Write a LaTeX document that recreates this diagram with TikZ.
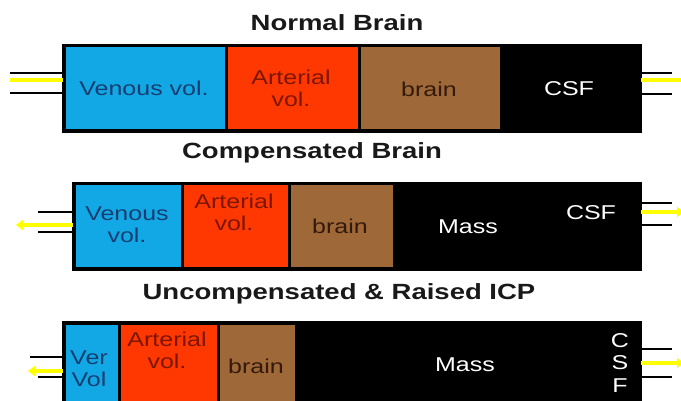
\documentclass[tikz,border=0pt]{standalone}
\usepackage{fontspec}
\setmainfont{Liberation Sans}[FakeStretch=1.25]
\usetikzlibrary{arrows.meta}
\definecolor{venfill}{RGB}{18,168,230}
\definecolor{artfill}{RGB}{255,55,0}
\definecolor{brfill}{RGB}{158,104,56}
\definecolor{ventext}{RGB}{22,62,112}
\definecolor{arttext}{RGB}{125,22,0}
\definecolor{brtext}{RGB}{52,26,10}
\definecolor{ttl}{RGB}{25,25,25}
\definecolor{yel}{RGB}{255,255,0}
\tikzset{
  sec/.style={draw=black, line width=2.5pt, inner sep=0pt, anchor=north west,
    align=center, font=\fontsize{20}{22}\selectfont},
  ven/.style={sec, fill=venfill, text=ventext},
  art/.style={sec, fill=artfill, text=arttext},
  brn/.style={sec, fill=brfill, text=brtext},
  blk/.style={sec, fill=black, text=white},
  lbl/.style={inner sep=0pt, align=center, font=\fontsize{20}{22}\selectfont},
  ttlnode/.style={inner sep=0pt, text=ttl, font=\fontsize{22}{24}\selectfont\bfseries},
  pipe/.style={draw=black, line width=2.7pt},
  flow/.style={draw=yel, line width=3.5pt},
  flowarr/.style={draw=yel, line width=3.5pt, -{Triangle[length=7pt,width=10pt]}}
}
\begin{document}
\begin{tikzpicture}[x=1pt,y=-1pt]
\useasboundingbox (0,0) rectangle (681,401);
\clip (0,0) rectangle (681,401);
% titles
\node[ttlnode] (t1) at (337,23) {Normal Brain};
\node[ttlnode] (t2) at (312,153) {Compensated Brain};
\node[ttlnode] (t3) at (339,294) {Uncompensated \& Raised ICP};

% row 1
\node[ven, minimum width=162pt, minimum height=84pt] (v1) at (63,45) {};
\node[art, minimum width=133pt, minimum height=84pt] (a1) at (225,45) {};
\node[brn, minimum width=142pt, minimum height=84pt] (b1) at (358,45) {};
\node[blk, minimum width=138pt, minimum height=84pt] (c1) at (500,45) {};
\node[lbl, text=ventext] (v1t) at (144,88) {Venous vol.};
\node[lbl, text=arttext] (a1t) at (291,88) {Arterial\\vol.};
\node[lbl, text=brtext] (b1t) at (429,89) {brain};
\node[lbl, text=white] (c1t) at (569,89) {CSF};
\draw[line width=2.5pt] (v1.north west) rectangle (c1.south east);

\coordinate (l1a) at (10,73);
\coordinate (l1y) at (10,80);
\coordinate (l1b) at (10,93);
\draw[pipe] (l1a) -- (l1a -| v1.west);
\draw[flow] (l1y) -- (l1y -| v1.west);
\draw[pipe] (l1b) -- (l1b -| v1.west);
\coordinate (r1a) at (672,73);
\coordinate (r1y) at (684,80);
\coordinate (r1b) at (672,94);
\draw[pipe] (c1.east |- r1a) -- (r1a);
\draw[flow] (c1.east |- r1y) -- (r1y);
\draw[pipe] (c1.east |- r1b) -- (r1b);

% row 2
\node[ven, minimum width=108pt, minimum height=84pt] (v2) at (73,183) {};
\node[art, minimum width=107pt, minimum height=84pt] (a2) at (181,183) {};
\node[brn, minimum width=105pt, minimum height=84pt] (b2) at (288,183) {};
\node[blk, minimum width=245pt, minimum height=84pt] (m2) at (393,183) {};
\node[lbl, text=ventext] (v2t) at (127,225) {Venous\\vol.};
\node[lbl, text=arttext] (a2t) at (234,212) {Arterial\\vol.};
\node[lbl, text=brtext] (b2t) at (340,226) {brain};
\node[lbl, text=white] (m2t) at (468,227) {Mass};
\node[lbl, text=white] (c2t) at (591,213) {CSF};
\draw[line width=2.5pt] (v2.north west) rectangle (m2.south east);

\coordinate (l2a) at (38,212);
\coordinate (l2y) at (16,225);
\coordinate (l2b) at (38,232);
\draw[pipe] (l2a) -- (l2a -| v2.west);
\draw[flowarr] (l2y -| v2.west) -- (l2y);
\draw[pipe] (l2b) -- (l2b -| v2.west);
\coordinate (r2a) at (672,203);
\coordinate (r2y) at (684,212);
\coordinate (r2b) at (672,225);
\draw[pipe] (m2.east |- r2a) -- (r2a);
\draw[flowarr] (m2.east |- r2y) -- (r2y);
\draw[pipe] (m2.east |- r2b) -- (r2b);

% row 3
\node[ven, minimum width=55pt, minimum height=90pt] (v3) at (63,322) {};
\node[art, minimum width=99pt, minimum height=90pt] (a3) at (118,322) {};
\node[brn, minimum width=78pt, minimum height=90pt] (b3) at (217,322) {};
\node[blk, minimum width=343pt, minimum height=90pt] (m3) at (295,322) {};
\node[lbl, text=ventext, anchor=west] (v3t) at (70,369) {Ver\\Vol};
\node[lbl, text=arttext] (a3t) at (167,350) {Arterial\\vol.};
\node[lbl, text=brtext] (b3t) at (256,366) {brain};
\node[lbl, text=white] (m3t) at (465,365) {Mass};
\node[lbl, text=white, font=\fontsize{20}{22.5}\selectfont] (c3t) at (620,363) {C\\S\\F};
\draw[line width=2.5pt] (v3.north west) rectangle (m3.south east);

\coordinate (l3a) at (30,357);
\coordinate (l3y) at (28,371);
\coordinate (l3b) at (38,377);
\draw[pipe] (l3a) -- (l3a -| v3.west);
\draw[flowarr] (l3y -| v3.west) -- (l3y);
\draw[pipe] (l3b) -- (l3b -| v3.west);
\coordinate (r3a) at (672,349);
\coordinate (r3y) at (684,363);
\coordinate (r3b) at (672,377);
\draw[pipe] (m3.east |- r3a) -- (r3a);
\draw[flowarr] (m3.east |- r3y) -- (r3y);
\draw[pipe] (m3.east |- r3b) -- (r3b);
\end{tikzpicture}
\end{document}
